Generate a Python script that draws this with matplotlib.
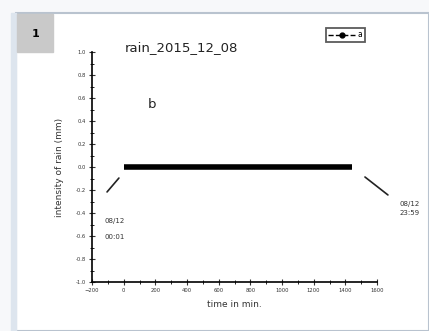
import matplotlib.pyplot as plt
from matplotlib.patches import Rectangle
from matplotlib.ticker import MultipleLocator

# rain record of one day, minute by minute (no rain at all)
time_min = [1, 240, 480, 720, 960, 1200, 1439]
intensity = [0, 0, 0, 0, 0, 0, 0]
x_ticks = [-200, 0, 200, 400, 600, 800, 1000, 1200, 1400, 1600]
y_ticks = [-1.0, -0.8, -0.6, -0.4, -0.2, 0.0, 0.2, 0.4, 0.6, 0.8, 1.0]

fig = plt.figure(figsize=(4.29, 3.31), dpi=100)
W, H = 429, 331

def px(x0, y0, w, h):
    # pixel box (top-left origin) -> figure fraction rectangle
    return (x0 / W, 1 - (y0 + h) / H), w / W, h / H

# window frame of the screenshot
xy, w, h = px(0, 0, 429, 331)
fig.patches.append(Rectangle(xy, w, h, transform=fig.transFigure, color='#f7f8fa', zorder=-3))
xy, w, h = px(16, 13, 413, 318)
fig.patches.append(Rectangle(xy, w, h, transform=fig.transFigure, facecolor='white',
                             edgecolor='#b9c3cf', lw=1.5, zorder=-2))
xy, w, h = px(11, 13, 5, 318)
fig.patches.append(Rectangle(xy, w, h, transform=fig.transFigure, color='#dde5ee', zorder=-2))
xy, w, h = px(17, 14, 36, 38)
fig.patches.append(Rectangle(xy, w, h, transform=fig.transFigure, color='#c9c9c9', zorder=-1))
fig.text(36 / W, 1 - 34 / H, '1', fontsize=8, fontweight='bold', ha='center', va='center')

ax = fig.add_axes([92 / W, 1 - 282 / H, 285 / W, 230 / H])
ax.plot(time_min, intensity, color='black', lw=4, solid_capstyle='butt', label='a')

ax.set_xlim(-200, 1600)
ax.set_ylim(-1.0, 1.0)
ax.set_xticks(x_ticks)
ax.set_yticks(y_ticks)
ax.xaxis.set_minor_locator(MultipleLocator(100))
ax.yaxis.set_minor_locator(MultipleLocator(0.1))
ax.set_yticklabels(['%.1f' % v for v in y_ticks])
ax.tick_params(which='major', direction='inout', length=4, width=0.8, labelsize=3.8,
               colors='#333333', pad=2.5)
ax.tick_params(which='minor', direction='inout', length=2.5, width=0.6)
for s in ['top', 'right']:
    ax.spines[s].set_visible(False)
ax.spines['left'].set_linewidth(1.2)
ax.spines['bottom'].set_linewidth(1.2)
ax.set_facecolor('none')

ax.set_xlabel('time in min.', fontsize=6.5, color='#333333', labelpad=5)
ax.set_ylabel('intensity of rain (mm)', fontsize=6.5, color='#333333', labelpad=8)

fig.text(125 / W, 1 - 48 / H, 'rain_2015_12_08', fontsize=9.5, color='#222222', va='center')
fig.text(148 / W, 1 - 104 / H, 'b', fontsize=9.5, color='#222222', va='center')

# legend in a small box
leg = ax.legend(loc='upper right', bbox_to_anchor=(1.0 - 12 / 285, 1.0 + 24 / 230),
                fontsize=5.5, frameon=True, fancybox=False, handlelength=3.5,
                borderpad=0.3, handletextpad=0.4, borderaxespad=0)
leg.get_frame().set_edgecolor('#333333')
leg.get_frame().set_linewidth(1.3)
leg.legend_handles[0].set_linewidth(1)
leg.legend_handles[0].set_linestyle('--')
leg.legend_handles[0].set_marker('o')
leg.legend_handles[0].set_markersize(3.5)

# start / end annotations
ax.annotate('', xy=(-30, -0.096), xytext=(-105, -0.217),
            arrowprops=dict(arrowstyle='-', color='#222222', lw=1.2, shrinkA=0, shrinkB=0))
ax.text(-120, -0.54, '08/12\n00:01', fontsize=5, color='#333333', ha='left', va='center',
        linespacing=3.1)
ax.annotate('', xy=(1524, -0.087), xytext=(1669, -0.243), annotation_clip=False,
            arrowprops=dict(arrowstyle='-', color='#222222', lw=1.2, shrinkA=0, shrinkB=0))
ax.text(1745, -0.36, '08/12\n23:59', fontsize=5, color='#333333', ha='left', va='center',
        linespacing=1.5, clip_on=False)

plt.savefig('out.png', dpi=100)
